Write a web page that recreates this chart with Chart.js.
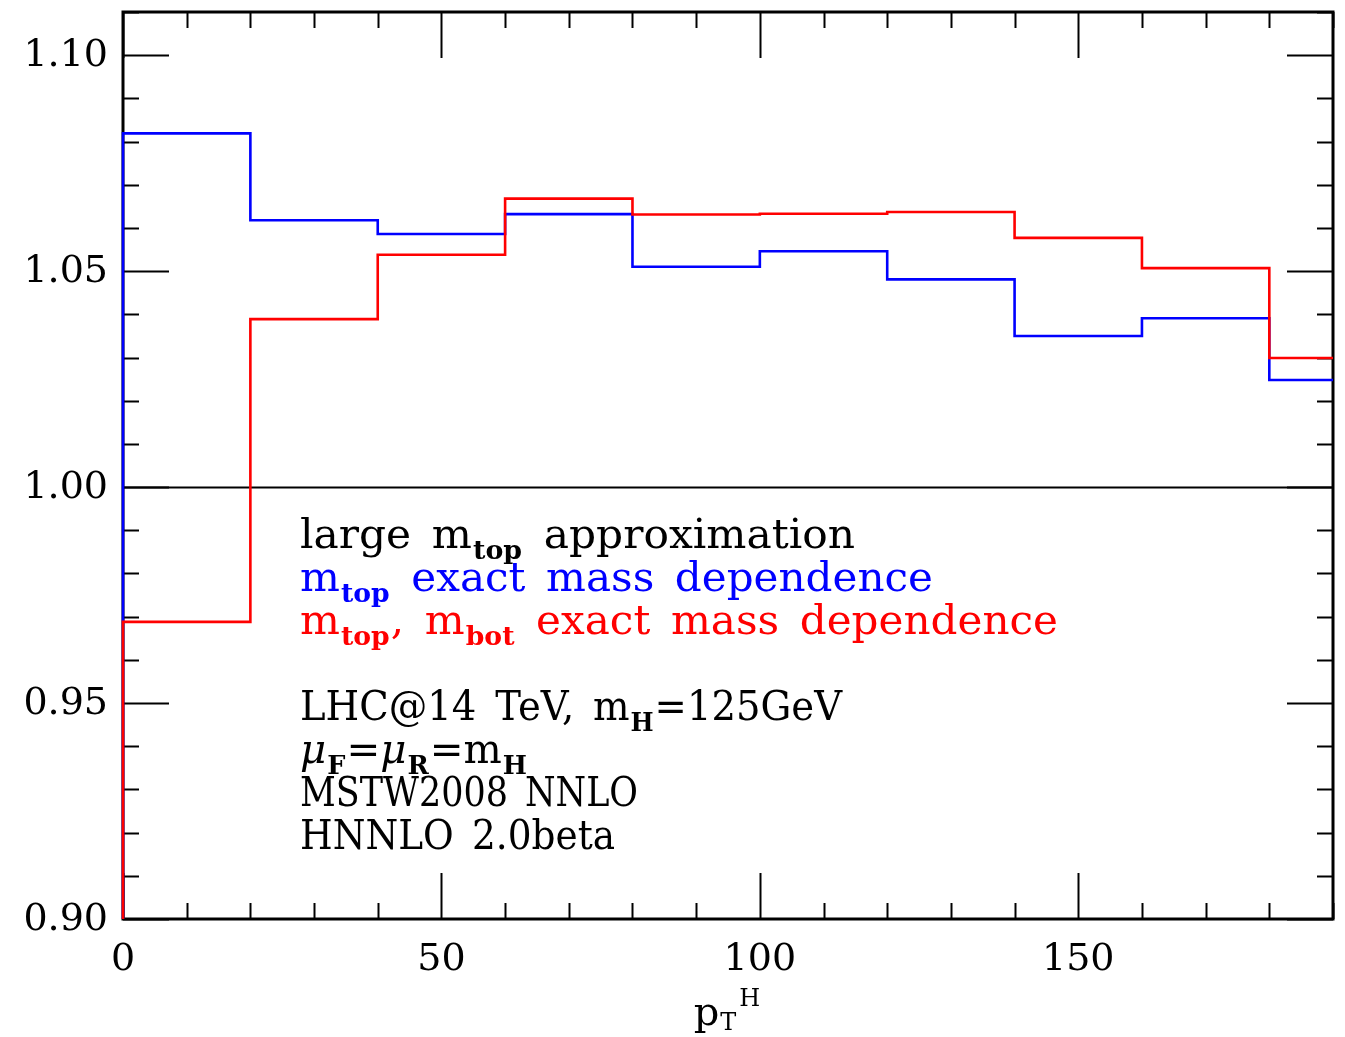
<!DOCTYPE html>
<html><head><meta charset="utf-8">
<script src="https://cdn.jsdelivr.net/npm/chart.js@4.4.0/dist/chart.umd.min.js"></script>
<style>html,body{margin:0;padding:0;background:#fff;}canvas{display:block}</style>
</head><body>
<canvas id="c" width="1345" height="1037"></canvas>
<script>
// ---- data ----
const binEdges = [0, 20, 40, 60, 80, 100, 120, 140, 160, 180];
const xEnd = 190;
const blueValues = [1.0819, 1.0618, 1.0586, 1.0632, 1.0510, 1.0546, 1.0481, 1.0350, 1.0391, 1.0248];
const redValues  = [0.9688, 1.0389, 1.0538, 1.0668, 1.0631, 1.0633, 1.0637, 1.0577, 1.0507, 1.0299];
const histBase = 0.90;
const xMin = 0, xMax = 190;
const yMin = 0.90, yMax = 1.11;
const xTickValues = [0, 50, 100, 150];
const xTickLabels = ['0', '50', '100', '150'];
const yTickValues = [0.90, 0.95, 1.00, 1.05, 1.10];
const yTickLabels = ['0.90', '0.95', '1.00', '1.05', '1.10'];
const xMinorStep = 10;
const yMinorStep = 0.01;
const refLineValue = 1.00;

const FONT = '"DejaVu Serif", serif';

function histPoints(vals) {
  const pts = [{x: binEdges[0], y: histBase}];
  vals.forEach((v, i) => pts.push({x: binEdges[i], y: v}));
  pts.push({x: xEnd, y: vals[vals.length - 1]});
  return pts;
}

function seg(ctx, x1, y1, x2, y2) { ctx.beginPath(); ctx.moveTo(x1, y1); ctx.lineTo(x2, y2); ctx.stroke(); }

const framePlugin = {
  id: 'frame',
  beforeDatasetsDraw(chart) {
    const {ctx, chartArea: a, scales: {x, y}} = chart;
    ctx.save();
    ctx.strokeStyle = '#000';
    ctx.lineCap = 'butt';
    // reference line at 1.00
    ctx.lineWidth = 2;
    const yr = Math.round(y.getPixelForValue(refLineValue)) + 0.5;
    seg(ctx, a.left, yr, a.right, yr);
    // x ticks (bottom + top)
    const nx = Math.round((xMax - xMin) / xMinorStep);
    for (let k = 0; k <= nx; k++) {
      const v = xMin + k * xMinorStep;
      const px = Math.round(x.getPixelForValue(v)) + 0.5;
      const L = (v % 50 === 0) ? 46 : 16;
      seg(ctx, px, a.bottom, px, a.bottom - L);
      seg(ctx, px, a.top, px, a.top + L);
    }
    // y ticks (left + right)
    const k0 = Math.round(yMin / yMinorStep), k1 = Math.round(yMax / yMinorStep);
    for (let k = k0; k <= k1; k++) {
      const v = k * yMinorStep;
      const py = Math.round(y.getPixelForValue(v)) + 0.5;
      const L = (k % 5 === 0) ? 46 : 16;
      seg(ctx, a.left, py, a.left + L, py);
      seg(ctx, a.right, py, a.right - L, py);
    }
    // frame
    ctx.lineWidth = 3;
    ctx.strokeRect(a.left, a.top, a.right - a.left, a.bottom - a.top);
    ctx.restore();
  },
  afterDraw(chart) {
    const {ctx, chartArea: a, scales: {x, y}} = chart;
    ctx.save();
    ctx.fillStyle = '#000';
    // tick labels
    ctx.font = '38px ' + FONT;
    ctx.textAlign = 'right'; ctx.textBaseline = 'middle';
    yTickValues.forEach((v, i) => ctx.fillText(yTickLabels[i], a.left - 15, y.getPixelForValue(v) + 1));
    ctx.textAlign = 'center';
    xTickValues.forEach((v, i) => ctx.fillText(xTickLabels[i], x.getPixelForValue(v), a.bottom + 41));
    // axis title p_T^H
    ctx.textAlign = 'left'; ctx.textBaseline = 'alphabetic';
    const cx = (a.left + a.right) / 2;
    ctx.font = '40px ' + FONT;
    const wp = ctx.measureText('p').width;
    ctx.font = '24px ' + FONT;
    const wT = ctx.measureText('T').width;
    const wH = ctx.measureText('H').width;
    const tot = wp + 2 + wT + 4 + wH;
    let tx = cx - tot / 2;
    const tb = a.bottom + 106;
    ctx.font = '40px ' + FONT; ctx.fillText('p', tx, tb); tx += wp + 1;
    ctx.font = '24px ' + FONT; ctx.fillText('T', tx, tb + 5); tx += wT + 3;
    ctx.fillText('H', tx, tb - 19);

    // annotation block
    const lines = [
      {c: '#000000', w: 555, b: 548, s: [{t: 'large '}, {t: 'm'}, {t: 'top', sub: 1}, {t: ' approximation'}]},
      {c: '#0000ff', w: 633, b: 591, s: [{t: 'm'}, {t: 'top', sub: 1}, {t: ' exact mass dependence'}]},
      {c: '#ff0000', w: 758, b: 634, s: [{t: 'm'}, {t: 'top', sub: 1}, {t: ', m'}, {t: 'bot', sub: 1}, {t: ' exact mass dependence'}]},
      {c: '#000000', w: 542, b: 720, s: [{t: 'LHC@14 TeV, m'}, {t: 'H', sub: 1}, {t: '=125GeV'}]},
      {c: '#000000', w: 228, b: 763, s: [{t: 'μ', it: 1}, {t: 'F', sub: 1}, {t: '='}, {t: 'μ', it: 1}, {t: 'R', sub: 1}, {t: '=m'}, {t: 'H', sub: 1}]},
      {c: '#000000', w: 338, b: 806, s: [{t: 'MSTW2008 NNLO'}]},
      {c: '#000000', w: 315, b: 849, s: [{t: 'HNNLO 2.0beta'}]}
    ];
    const x0 = a.left + 177;
    const extraSpace = 7;
    function fontFor(s) {
      if (s.sub) return 'bold 26px ' + FONT;
      if (s.it) return 'italic 41px ' + FONT;
      return '41px ' + FONT;
    }
    function runs(s) {
      ctx.font = fontFor(s);
      const parts = s.t.split(' ');
      const sp = ctx.measureText(' ').width + extraSpace;
      const out = [];
      let w = 0;
      parts.forEach((p, i) => {
        if (i > 0) w += sp;
        if (p.length) { out.push({p, off: w}); w += ctx.measureText(p).width; }
      });
      return {out, w};
    }
    lines.forEach(L => {
      let total = 0;
      const rs = L.s.map(s => { const r = runs(s); total += r.w + (s.sub ? 2 : 0); return r; });
      const sx = L.w / total;
      ctx.save();
      ctx.translate(x0, L.b);
      ctx.scale(sx, 1);
      ctx.fillStyle = L.c;
      let cxp = 0;
      L.s.forEach((s, i) => {
        ctx.font = fontFor(s);
        const dy = s.sub ? 11 : 0;
        const pad = s.sub ? 1 : 0;
        rs[i].out.forEach(o => ctx.fillText(o.p, cxp + pad + o.off, dy));
        cxp += rs[i].w + (s.sub ? 2 : 0);
      });
      ctx.restore();
    });
    ctx.restore();
  }
};

new Chart(document.getElementById('c'), {
  type: 'line',
  data: {
    datasets: [
      {label: 'm_top exact', data: histPoints(blueValues), borderColor: '#0000ff', borderWidth: 2.6, stepped: 'before', pointRadius: 0, fill: false, tension: 0, clip: 5, order: 1},
      {label: 'm_top, m_bot exact', data: histPoints(redValues), borderColor: '#ff0000', borderWidth: 2.6, stepped: 'before', pointRadius: 0, fill: false, tension: 0, clip: 5, order: 0}
    ]
  },
  options: {
    responsive: false,
    animation: false,
    events: [],
    layout: {padding: {left: 123, right: 12, top: 12, bottom: 118}},
    scales: {
      x: {type: 'linear', min: xMin, max: xMax, display: false},
      y: {type: 'linear', min: yMin, max: yMax, display: false}
    },
    plugins: {legend: {display: false}, tooltip: {enabled: false}}
  },
  plugins: [framePlugin]
});
</script>
</body></html>
